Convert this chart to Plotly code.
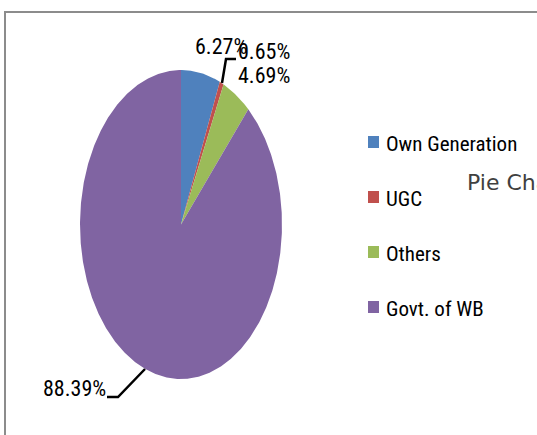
import numpy as np
import plotly.graph_objects as go

# ---- data ----
categories = ["Own Generation", "UGC", "Others", "Govt. of WB"]
values = [6.27, 0.65, 4.69, 88.39]
label_texts = ["6.27%", "0.65%", "4.69%", "88.39%"]
colors = ["#4F81BD", "#C0504D", "#9BBB59", "#8064A2"]

W, H = 537, 435


def px(x):
    return x / W


def py(y):
    return 1 - y / H


fig = go.Figure()

# pie wedges (elliptical), starting at 12 o'clock, clockwise
total = sum(values)
cum = 0.0
for cat, val, col in zip(categories, values, colors):
    a0 = 90 - cum / total * 360
    a1 = 90 - (cum + val) / total * 360
    n = max(4, int(abs(a1 - a0) * 2))
    th = np.radians(np.linspace(a0, a1, n))
    xs = np.concatenate([[0], np.cos(th), [0]])
    ys = np.concatenate([[0], np.sin(th), [0]])
    fig.add_trace(go.Scatter(
        x=xs, y=ys, mode="lines", fill="toself", fillcolor=col,
        line=dict(width=0, color=col), hoverinfo="text", text=f"{cat}: {val}%",
        showlegend=False,
    ))
    cum += val

font_narrow = "Roboto Condensed, Liberation Sans Narrow, sans-serif"

# data labels
label_pos = [(221, 46), (264, 52), (264, 75), (74, 388)]
annotations = []
for t, (lx, ly) in zip(label_texts, label_pos):
    annotations.append(dict(
        x=px(lx), y=py(ly), xref="paper", yref="paper", text=t, showarrow=False,
        font=dict(family=font_narrow, size=22, color="#000000"),
        xanchor="center", yanchor="middle",
    ))

# legend (manual)
leg_y = [142, 197, 252, 307]
shapes = []
for cat, col, ly in zip(categories, colors, leg_y):
    shapes.append(dict(
        type="rect", xref="paper", yref="paper",
        x0=px(368), x1=px(379), y0=py(ly - 6), y1=py(ly + 6),
        fillcolor=col, line=dict(width=0),
    ))
    annotations.append(dict(
        x=px(384), y=py(ly + 2), xref="paper", yref="paper", text=cat,
        showarrow=False, xanchor="left", yanchor="middle",
        font=dict(family=font_narrow, size=21, color="#000000"),
    ))

# partially visible title
annotations.append(dict(
    x=px(465), y=py(183), xref="paper", yref="paper", text="Pie Chart",
    showarrow=False, xanchor="left", yanchor="middle",
    font=dict(family="DejaVu Sans, sans-serif", size=22, color="#404040"),
))

# leader lines
shapes.append(dict(
    type="path", xref="paper", yref="paper",
    path=f"M {px(222)} {py(83)} L {px(226)} {py(59)} L {px(236)} {py(59)}",
    line=dict(color="#000000", width=2.5),
))
shapes.append(dict(
    type="path", xref="paper", yref="paper",
    path=f"M {px(145)} {py(369)} L {px(118)} {py(397)} L {px(107)} {py(397)}",
    line=dict(color="#000000", width=2.5),
))

# chart border
shapes.append(dict(
    type="rect", xref="paper", yref="paper",
    x0=px(5), x1=px(W + 20), y0=py(12), y1=py(H + 20),
    line=dict(color="#8c8c8c", width=2), fillcolor="rgba(0,0,0,0)",
))

fig.update_layout(
    width=W, height=H,
    margin=dict(l=0, r=0, t=0, b=0),
    paper_bgcolor="#ffffff", plot_bgcolor="rgba(0,0,0,0)",
    showlegend=False,
    xaxis=dict(domain=[px(80), px(282)], range=[-1, 1], visible=False, fixedrange=True),
    yaxis=dict(domain=[py(379), py(70)], range=[-1, 1], visible=False, fixedrange=True),
    annotations=annotations,
    shapes=shapes,
)

fig.write_html("out.html", config={"displayModeBar": False},
               post_script="document.body.style.margin='0';document.body.style.overflow='hidden';")
